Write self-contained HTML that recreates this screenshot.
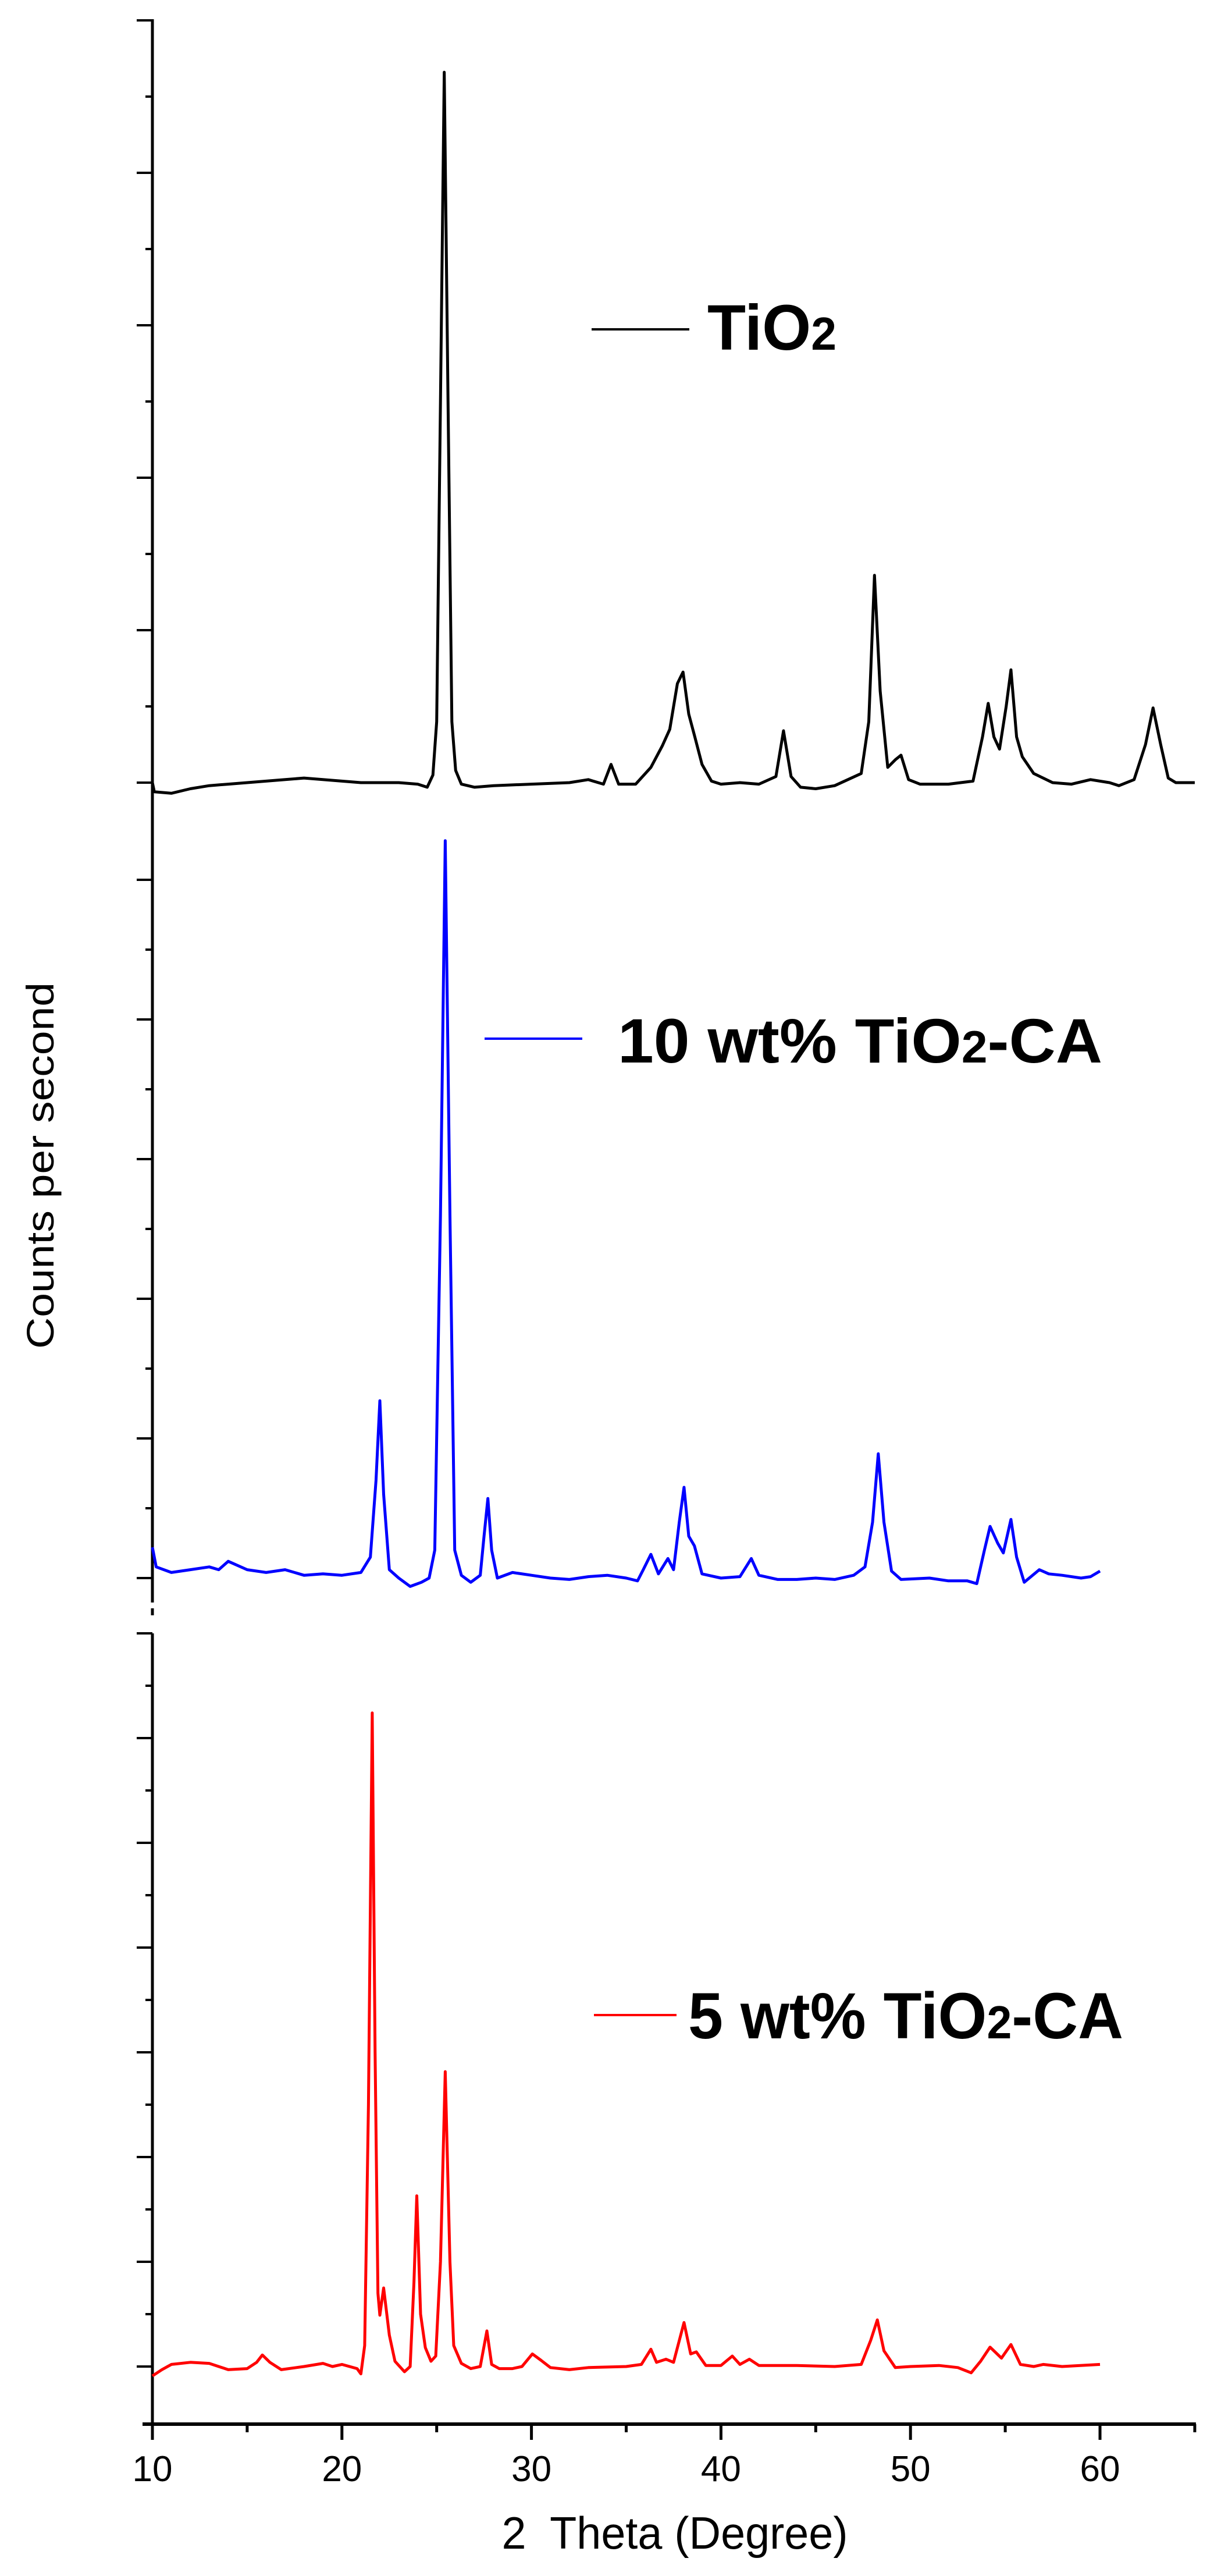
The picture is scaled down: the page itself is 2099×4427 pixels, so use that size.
<!DOCTYPE html>
<html><head><meta charset="utf-8"><style>
html,body{margin:0;padding:0;background:#fff;}
svg{display:block;}
</style></head><body>
<svg id="chart" xmlns="http://www.w3.org/2000/svg" width="2099" height="4427" viewBox="0 0 2099 4427">
<rect x="0" y="0" width="2099" height="4427" fill="#fff"/>
<g id="axes"></g>
<g id="series"></g>
<text x="0" y="0" transform="translate(92,2003) rotate(-90)" text-anchor="middle" font-family="Liberation Sans, sans-serif" font-size="66" textLength="630" lengthAdjust="spacingAndGlyphs">Counts per second</text>
<text x="1160" y="4380" text-anchor="middle" font-family="Liberation Sans, sans-serif" font-size="78" textLength="595" lengthAdjust="spacingAndGlyphs" xml:space="preserve">2  Theta (Degree)</text>
<g>
<line x1="1017" y1="566" x2="1185" y2="566" stroke="#000" stroke-width="4"/>
<text x="1216" y="601" font-family="Liberation Sans, sans-serif" font-weight="bold" font-size="110" textLength="222" lengthAdjust="spacingAndGlyphs">TiO<tspan font-size="80">2</tspan></text>
</g>
<g>
<line x1="833" y1="1785" x2="1001" y2="1785" stroke="#0000ff" stroke-width="4"/>
<text x="1062" y="1826" font-family="Liberation Sans, sans-serif" font-weight="bold" font-size="108" textLength="833" lengthAdjust="spacingAndGlyphs">10 wt% TiO<tspan font-size="78">2</tspan>-CA</text>
</g>
<g>
<line x1="1021" y1="3463" x2="1163" y2="3463" stroke="#ff0000" stroke-width="4"/>
<text x="1183" y="3503" font-family="Liberation Sans, sans-serif" font-weight="bold" font-size="112" textLength="748" lengthAdjust="spacingAndGlyphs">5 wt% TiO<tspan font-size="80">2</tspan>-CA</text>
</g>
</svg>
<script>
// x-axis
const xTicks = [10, 20, 30, 40, 50, 60];
const xTickLabels = ["10", "20", "30", "40", "50", "60"];
// TiO2 (arbitrary units, 1000 per major tick)
const tio2Theta = [10.0,10.1,11,12,13,14,15,16,17,18,19,20,21,22,23,24,24.5,24.8,25.0,25.2,25.4,25.6,25.8,26.0,26.3,27,28,30,32,33,33.8,34.2,34.6,35.5,36.3,36.9,37.3,37.7,38.0,38.3,38.6,39,39.5,40,41,42,42.9,43.3,43.7,44.2,45,46,47.4,47.8,48.1,48.4,48.8,49.2,49.5,49.9,50.5,52,53.3,53.8,54.1,54.4,54.7,55.05,55.3,55.6,55.9,56.5,57.5,58.5,59.5,60.5,61,61.8,62.4,62.8,63.2,63.6,64,65];
const tio2Counts = [0,-60,-70,-40,-20,-10,0,10,20,30,20,10,0,0,0,-10,-30,50,400,2500,4660,2500,400,80,-10,-30,-20,-10,0,20,-10,120,-10,-10,100,240,350,650,725,450,310,120,10,-10,0,-10,40,340,40,-30,-40,-20,60,400,1360,600,100,150,180,20,-10,-10,10,300,520,300,220,500,740,300,170,60,0,-10,20,0,-20,20,250,490,250,30,0,0];
// 10 wt% TiO2-CA
const ca10Theta = [10,10.2,11,12,13,13.5,14,15,16,17,18,19,20,21,21.5,21.8,22.0,22.2,22.5,23,23.6,24.2,24.6,24.9,25.2,25.45,25.7,25.95,26.3,26.8,27.3,27.5,27.7,27.9,28.2,29,30,31,32,33,34,35,35.6,35.9,36.3,36.7,37.2,37.5,37.8,38.05,38.3,38.6,39,40,41,41.6,42,43,44,45,46,47,47.6,48.0,48.3,48.6,49,49.5,51,52,53,53.5,53.9,54.2,54.6,54.9,55.3,55.6,56,56.8,57.3,58,59,59.5,60];
const ca10Counts = [220,80,40,60,80,60,120,60,40,60,20,30,20,40,150,700,1270,600,60,0,-60,-30,0,200,2600,5280,2600,200,20,-30,20,300,570,200,0,40,20,0,-10,10,20,0,-20,60,170,30,140,60,400,650,300,230,30,0,10,140,20,-10,-10,0,-10,20,80,400,890,400,50,-10,0,-20,-20,-40,200,370,250,180,420,150,-30,60,30,20,0,10,50];
// 5 wt% TiO2-CA
const ca5Theta = [10,10.5,11,12,13,14,15,15.5,15.8,16.2,16.8,18,19,19.5,20,20.8,21.0,21.2,21.4,21.6,21.75,21.9,22.0,22.2,22.5,22.8,23.3,23.6,23.8,23.95,24.15,24.4,24.7,24.95,25.2,25.45,25.7,25.9,26.3,26.8,27.3,27.65,27.9,28.3,29,29.5,30.05,30.5,31,32,33,35,35.8,36.3,36.6,37.1,37.5,38.05,38.4,38.7,39.2,40,40.6,41,41.5,42,44,46,47.4,47.9,48.25,48.6,49.2,50,51.5,52.5,53.2,53.7,54.2,54.8,55.3,55.8,56.5,57,58,60];
const ca5Counts = [-90,-30,20,40,30,-30,-20,40,110,40,-30,0,30,0,20,-20,-70,200,2500,6240,3000,700,490,750,300,50,-50,0,800,1630,500,180,50,100,1000,2815,1000,200,30,-20,0,340,20,-20,-20,0,120,60,-10,-30,-10,0,20,165,40,70,40,420,120,140,10,10,100,20,70,10,10,0,20,250,445,150,-10,0,10,-10,-60,50,185,80,210,20,0,20,0,20];

const NS = "http://www.w3.org/2000/svg";
const X0 = 262, PX_PER_DEG = 32.58;
function xScale(t){ return X0 + (t - 10) * PX_PER_DEG; }
function makeY(baseY, pxPerMajor){ return v => baseY - v / 1000 * pxPerMajor; }
const yTop = makeY(1345, 262);
const yMid = makeY(2712, 240);
const yBot = makeY(4067, 180);

const axes = document.getElementById('axes');
const series = document.getElementById('series');
function line(parent, x1, y1, x2, y2, w, name, dash){
  const l = document.createElementNS(NS, 'line');
  l.setAttribute('x1', x1); l.setAttribute('y1', y1);
  l.setAttribute('x2', x2); l.setAttribute('y2', y2);
  l.setAttribute('stroke', '#000'); l.setAttribute('stroke-width', w);
  if (dash) l.setAttribute('stroke-dasharray', dash);
  
  
  parent.appendChild(l);
}
line(axes, X0, 33, X0, 2742, 5, 'y-axis-upper');
line(axes, X0, 2742, X0, 2780, 5, 'y-axis-break', '12 10');
line(axes, X0, 2807, X0, 4168, 5, 'y-axis-lower');
function yTicks(base, step, n, prefix){
  for (let k = 0; k < n; k++){
    const y = base - k * step;
    line(axes, X0 - 27, y, X0, y, 4, prefix + '-major-tick');
    if (k < n - 1) line(axes, X0 - 12, y - step / 2, X0, y - step / 2, 4, prefix + '-minor-tick');
  }
}
yTicks(1345, 262, 6, 'tio2-y');
yTicks(2712, 240, 6, 'ca10-y');
yTicks(4067, 180, 8, 'ca5-y');
const XAXIS_Y = 4166;
line(axes, 245, XAXIS_Y, xScale(65) + 2, XAXIS_Y, 6, 'x-axis');
xTicks.forEach((t, i) => {
  line(axes, xScale(t), XAXIS_Y, xScale(t), XAXIS_Y + 27, 5, 'x-major-tick');
  const tx = document.createElementNS(NS, 'text');
  tx.setAttribute('x', xScale(t)); tx.setAttribute('y', 4264);
  tx.setAttribute('text-anchor', 'middle');
  tx.setAttribute('font-family', 'Liberation Sans, sans-serif');
  tx.setAttribute('font-size', '62');
  
  
  tx.textContent = xTickLabels[i];
  axes.appendChild(tx);
  line(axes, xScale(t + 5), XAXIS_Y, xScale(t + 5), XAXIS_Y + 14, 5, 'x-minor-tick');
});

function drawSeries(th, cts, ys, color, name){
  const pts = th.map((t, i) => xScale(t).toFixed(1) + ',' + ys(cts[i]).toFixed(1)).join(' ');
  const p = document.createElementNS(NS, 'polyline');
  p.setAttribute('points', pts);
  p.setAttribute('fill', 'none');
  p.setAttribute('stroke', color);
  p.setAttribute('stroke-width', '5');
  p.setAttribute('stroke-linejoin', 'round');
  
  
  series.appendChild(p);
}
drawSeries(tio2Theta, tio2Counts, yTop, '#000000', 'series-tio2');
drawSeries(ca10Theta, ca10Counts, yMid, '#0000ff', 'series-10wt-tio2-ca');
drawSeries(ca5Theta, ca5Counts, yBot, '#ff0000', 'series-5wt-tio2-ca');
</script>
</body></html>
